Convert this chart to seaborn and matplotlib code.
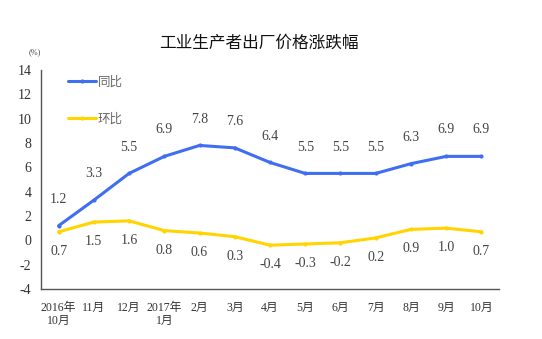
import matplotlib
matplotlib.use("Agg")
import matplotlib.pyplot as plt
import seaborn as sns
import pandas as pd

categories = ["2016年\n10月", "11月", "12月", "2017年\n1月", "2月", "3月", "4月",
              "5月", "6月", "7月", "8月", "9月", "10月"]
yoy = [1.2, 3.3, 5.5, 6.9, 7.8, 7.6, 6.4, 5.5, 5.5, 5.5, 6.3, 6.9, 6.9]
mom = [0.7, 1.5, 1.6, 0.8, 0.6, 0.3, -0.4, -0.3, -0.2, 0.2, 0.9, 1.0, 0.7]
series_names = ["同比", "环比"]
yticks = [-4, -2, 0, 2, 4, 6, 8, 10, 12, 14]

sns.set_theme(style="white")
plt.rcParams['font.family'] = ['Liberation Serif', 'Noto Sans CJK SC', 'DejaVu Sans']

df = pd.DataFrame({
    "x": list(range(len(categories))) * 2,
    "value": yoy + mom,
    "series": [series_names[0]] * len(yoy) + [series_names[1]] * len(mom),
})

blue = "#3F6EF2"
yellow = "#FFD400"

fig = plt.figure(figsize=(5.42, 3.39), dpi=100)
ax = fig.add_axes([41 / 542, 1 - 289 / 339, 458 / 542, 219 / 339])

sns.lineplot(data=df, x="x", y="value", hue="series",
             palette={series_names[0]: blue, series_names[1]: yellow},
             marker="o", markersize=3, markeredgewidth=0, linewidth=2.2,
             ax=ax, legend=True)

ax.set_xlim(-0.5, len(categories) - 0.5)
ax.set_ylim(-4, 14)
ax.set_yticks(yticks)
ax.set_yticklabels([str(t) for t in yticks], fontsize=10, color="#333333")
ax.set_xticks([i - 0.5 for i in range(len(categories) + 1)])
ax.set_xticklabels([])
ax.set_xticks(list(range(len(categories))), minor=True)
ax.set_xticklabels(categories, minor=True, fontsize=8.5, color="#333333",
                   family=['Liberation Serif', 'Noto Sans CJK SC'], va="top",
                   linespacing=1.2)
ax.tick_params(axis="x", which="minor", length=0, pad=9)
ax.tick_params(axis="x", which="major", direction="in", length=3, color="#555555")
ax.tick_params(axis="y", direction="in", length=3, color="#555555", pad=7)
ax.set_xlabel("")
ax.set_ylabel("")
for s in ["top", "right"]:
    ax.spines[s].set_visible(False)
for s in ["left", "bottom"]:
    ax.spines[s].set_color("#555555")
    ax.spines[s].set_linewidth(1)

for i, v in enumerate(yoy):
    ax.annotate(f"{v:.1f}", (i, v), xytext=(0, 19), textcoords="offset points",
                ha="center", va="center", fontsize=10, color="#444444")
for i, v in enumerate(mom):
    ax.annotate(f"{v:.1f}", (i, v), xytext=(0, -14), textcoords="offset points",
                ha="center", va="center", fontsize=10, color="#444444")

leg = ax.legend(loc="upper left", bbox_to_anchor=(0.035, 1.025), frameon=False,
                fontsize=9, handlelength=2.2, labelspacing=1.9, handletextpad=0.15)
for t in leg.get_texts():
    t.set_color("#666666")
    t.set_family(['Noto Sans CJK SC'])

fig.text(259 / 542, 1 - 43 / 339, "工业生产者出厂价格涨跌幅", ha="center", va="center",
         fontsize=12, family=['Noto Sans CJK SC'], color="#111111")
fig.text(35 / 542, 1 - 52 / 339, "(%)", ha="center", va="center", fontsize=6,
         color="#444444")

fig.savefig("out.png", dpi=100)
